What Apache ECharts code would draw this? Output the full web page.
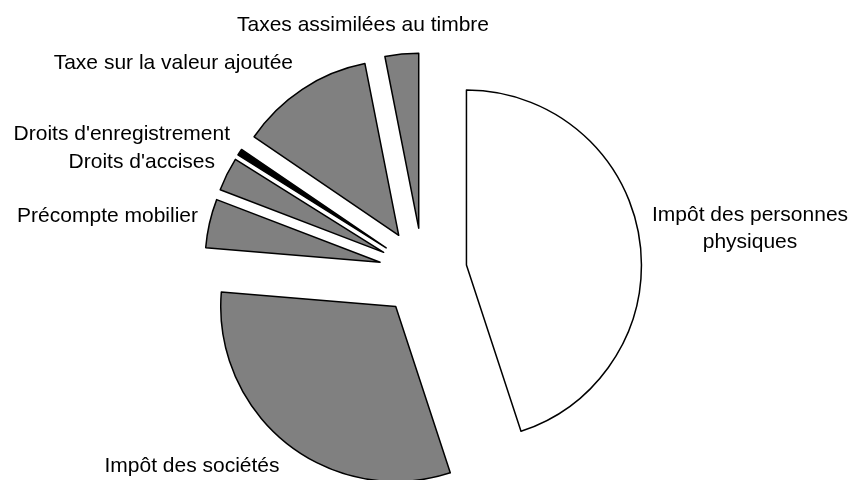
<!DOCTYPE html>
<html>
<head>
<meta charset="utf-8">
<script src="https://cdn.jsdelivr.net/npm/echarts@6/dist/echarts.min.js"></script>
<style>
  html, body { margin: 0; padding: 0; background: #fff; }
  #pieChart { width: 856px; height: 480px; }
</style>
</head>
<body>
<div id="pieChart"></div>
<script>
// recettes fiscales, parts en %
const categories = [
	'Impôt des personnes\nphysiques',
	'Impôt des sociétés',
	'Précompte mobilier',
	"Droits d'accises",
	"Droits d'enregistrement",
	'Taxe sur la valeur ajoutée',
	'Taxes assimilées au timbre'
];
const shares = [45.0, 31.4, 4.5, 3.1, 0.6, 12.4, 3.1];
const fills = ['#ffffff', '#808080', '#808080', '#808080', '#000000', '#808080', '#808080'];

// where each label sits (x, y, align)
const labelSpots = [
	[750, 229, 'center'],
	[192, 466, 'center'],
	[198, 216, 'right'],
	[215, 162, 'right'],
	[230, 134, 'right'],
	[293, 63, 'right'],
	[363, 25, 'center']
];

var chartDom = document.getElementById('pieChart');
var myChart = echarts.init(chartDom, null, { renderer: 'canvas', devicePixelRatio: 1 });

var pieBase = {
	type: 'pie',
	center: [423, 272],
	radius: 175,
	startAngle: 90,
	clockwise: true,
	avoidLabelOverlap: false,
	emphasis: { disabled: true },
	labelLine: { show: false }
};

var option = {
	animation: false,
	backgroundColor: '#ffffff',
	series: [
		// exploded slices
		Object.assign({}, pieBase, {
			selectedMode: 'multiple',
			selectedOffset: 44,
			itemStyle: {
				borderColor: '#000',
				borderWidth: 1.5
			},
			select: {
				itemStyle: {
					borderColor: '#000',
					borderWidth: 1.5
				}
			},
			label: { show: false },
			data: categories.map(function (name, i) {
				return {
					name: name,
					value: shares[i],
					selected: true,
					itemStyle: { color: fills[i] }
				};
			})
		}),
		// labels only (a selected slice would drag its label along)
		Object.assign({}, pieBase, {
			silent: true,
			itemStyle: { color: 'rgba(0,0,0,0)', borderWidth: 0 },
			label: {
				show: true,
				position: 'outside',
				color: '#000',
				fontFamily: '"Liberation Sans", Arial, sans-serif',
				fontSize: 21,
				lineHeight: 27
			},
			labelLayout: function (params) {
				var s = labelSpots[params.dataIndex];
				return { x: s[0], y: s[1], align: s[2], verticalAlign: 'middle' };
			},
			data: categories.map(function (name, i) {
				return { name: name, value: shares[i] };
			})
		})
	]
};

option && myChart.setOption(option);
</script>
</body>
</html>
